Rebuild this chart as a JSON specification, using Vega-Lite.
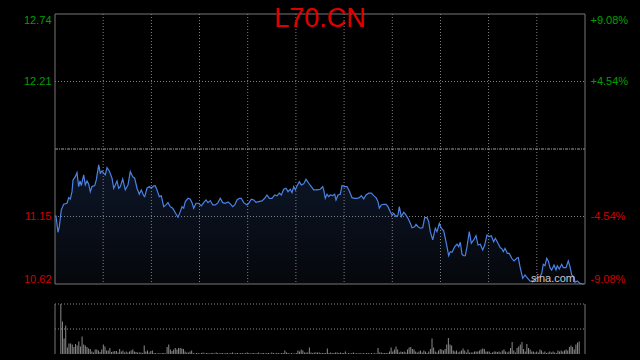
{
"$schema": "https://vega.github.io/schema/vega-lite/v6.json",
"width": 530, "height": 340,
"autosize": {"type": "none"},
"padding": {"left": 55, "top": 14, "right": 55, "bottom": 6},
"background": "#000000",
"title": {"text": "L70.CN", "anchor": "middle", "frame": "group", "color": "#e00000", "font": "Liberation Sans", "fontSize": 27, "fontWeight": "normal", "offset": -40, "baseline": "alphabetic"},
"config": {"view": {"stroke": null}},
"datasets": {
"price": [
{"t":0,"p":11.154},{"t":1,"p":11.154},{"t":3,"p":11.026},{"t":4.3,"p":11.07},{"t":6.3,"p":11.202},{"t":8.7,"p":11.246},{"t":12,"p":11.254},{"t":13.7,"p":11.298},{"t":15.3,"p":11.286},{"t":17,"p":11.345},{"t":18,"p":11.437},{"t":20.3,"p":11.463},{"t":22,"p":11.495},{"t":23.7,"p":11.385},{"t":25,"p":11.43},{"t":26.3,"p":11.393},{"t":28.7,"p":11.477},{"t":30.3,"p":11.398},{"t":32,"p":11.43},{"t":33.7,"p":11.404},{"t":35.3,"p":11.345},{"t":37,"p":11.385},{"t":39.7,"p":11.393},{"t":41.3,"p":11.437},{"t":43.7,"p":11.555},{"t":45.3,"p":11.49},{"t":47,"p":11.508},{"t":48.7,"p":11.49},{"t":50.3,"p":11.477},{"t":52,"p":11.534},{"t":54.3,"p":11.508},{"t":57,"p":11.451},{"t":58.7,"p":11.372},{"t":60.3,"p":11.398},{"t":62,"p":11.43},{"t":63.7,"p":11.372},{"t":65.3,"p":11.385},{"t":67.7,"p":11.445},{"t":70.3,"p":11.359},{"t":73,"p":11.398},{"t":75.3,"p":11.503},{"t":77.7,"p":11.463},{"t":79.7,"p":11.451},{"t":82,"p":11.372},{"t":84.3,"p":11.325},{"t":86.3,"p":11.359},{"t":88.7,"p":11.314},{"t":89.7,"p":11.306},{"t":92,"p":11.372},{"t":94.3,"p":11.385},{"t":96.3,"p":11.372},{"t":98.7,"p":11.39},{"t":100.3,"p":11.39},{"t":102,"p":11.359},{"t":104.3,"p":11.306},{"t":106.3,"p":11.312},{"t":108.7,"p":11.227},{"t":111,"p":11.241},{"t":113,"p":11.259},{"t":115.3,"p":11.227},{"t":117.7,"p":11.215},{"t":120.3,"p":11.18},{"t":123,"p":11.144},{"t":125.3,"p":11.188},{"t":127,"p":11.227},{"t":128.7,"p":11.215},{"t":130.3,"p":11.267},{"t":133,"p":11.293},{"t":135.3,"p":11.286},{"t":137,"p":11.259},{"t":138.7,"p":11.215},{"t":141,"p":11.254},{"t":143.7,"p":11.254},{"t":146.3,"p":11.233},{"t":148.7,"p":11.259},{"t":151,"p":11.28},{"t":153,"p":11.259},{"t":155.3,"p":11.275},{"t":157.7,"p":11.241},{"t":160.3,"p":11.241},{"t":163,"p":11.259},{"t":165.3,"p":11.293},{"t":167.7,"p":11.259},{"t":170.3,"p":11.254},{"t":173,"p":11.264},{"t":175.3,"p":11.249},{"t":177.7,"p":11.227},{"t":179.7,"p":11.241},{"t":182,"p":11.28},{"t":184.3,"p":11.293},{"t":186.3,"p":11.293},{"t":188.7,"p":11.259},{"t":192,"p":11.241},{"t":193.7,"p":11.254},{"t":196.3,"p":11.286},{"t":198.7,"p":11.28},{"t":201,"p":11.262},{"t":203.7,"p":11.267},{"t":207,"p":11.272},{"t":209.7,"p":11.293},{"t":212,"p":11.319},{"t":214.3,"p":11.293},{"t":217,"p":11.293},{"t":219.7,"p":11.319},{"t":222,"p":11.312},{"t":224.3,"p":11.333},{"t":226.3,"p":11.319},{"t":228.7,"p":11.364},{"t":231,"p":11.372},{"t":233,"p":11.345},{"t":235.3,"p":11.364},{"t":237,"p":11.338},{"t":238.7,"p":11.385},{"t":240.3,"p":11.359},{"t":242,"p":11.39},{"t":244.3,"p":11.424},{"t":246.3,"p":11.398},{"t":248.7,"p":11.406},{"t":251,"p":11.443},{"t":253.7,"p":11.411},{"t":256.3,"p":11.385},{"t":258.7,"p":11.359},{"t":262,"p":11.359},{"t":265.3,"p":11.364},{"t":267.7,"p":11.385},{"t":268.7,"p":11.359},{"t":270.3,"p":11.293},{"t":272,"p":11.325},{"t":273.7,"p":11.306},{"t":275.3,"p":11.319},{"t":277.7,"p":11.314},{"t":279.7,"p":11.325},{"t":281,"p":11.28},{"t":283,"p":11.319},{"t":285.3,"p":11.325},{"t":287,"p":11.393},{"t":289.7,"p":11.385},{"t":292,"p":11.385},{"t":294.3,"p":11.351},{"t":297,"p":11.298},{"t":299.7,"p":11.293},{"t":302,"p":11.293},{"t":304.3,"p":11.298},{"t":306.3,"p":11.314},{"t":308.7,"p":11.288},{"t":311,"p":11.319},{"t":313.7,"p":11.333},{"t":316.3,"p":11.333},{"t":318.7,"p":11.314},{"t":321,"p":11.298},{"t":323,"p":11.267},{"t":324.3,"p":11.215},{"t":326.3,"p":11.241},{"t":328.7,"p":11.246},{"t":331,"p":11.246},{"t":333,"p":11.227},{"t":335.3,"p":11.188},{"t":337,"p":11.162},{"t":338.7,"p":11.175},{"t":341,"p":11.149},{"t":343,"p":11.162},{"t":344.3,"p":11.227},{"t":346.3,"p":11.149},{"t":348.7,"p":11.183},{"t":350.3,"p":11.168},{"t":353,"p":11.136},{"t":355.3,"p":11.097},{"t":357,"p":11.062},{"t":359.7,"p":11.07},{"t":361,"p":11.089},{"t":363,"p":11.07},{"t":365.3,"p":11.058},{"t":367.7,"p":11.062},{"t":369.7,"p":11.141},{"t":372,"p":11.141},{"t":373.7,"p":11.11},{"t":375.3,"p":11.031},{"t":377.7,"p":10.966},{"t":380.3,"p":11.058},{"t":382,"p":11.031},{"t":384.3,"p":11.097},{"t":386.3,"p":11.058},{"t":388.7,"p":11.037},{"t":391,"p":10.952},{"t":393.7,"p":10.842},{"t":395.3,"p":10.874},{"t":397,"p":10.869},{"t":399.7,"p":10.913},{"t":402,"p":10.932},{"t":403.7,"p":10.913},{"t":405.3,"p":10.948},{"t":407,"p":10.853},{"t":408.7,"p":10.842},{"t":410.3,"p":10.842},{"t":412,"p":10.913},{"t":414.3,"p":11.031},{"t":416.3,"p":10.94},{"t":418.7,"p":10.966},{"t":421,"p":10.999},{"t":423,"p":10.926},{"t":425.3,"p":10.932},{"t":427.7,"p":10.887},{"t":429.7,"p":10.926},{"t":432,"p":11.005},{"t":434.3,"p":10.992},{"t":436.3,"p":10.999},{"t":438.7,"p":10.952},{"t":440.3,"p":10.979},{"t":443,"p":10.94},{"t":445.3,"p":10.905},{"t":446.7,"p":10.9},{"t":448.3,"p":10.874},{"t":450,"p":10.9},{"t":452.3,"p":10.861},{"t":454.3,"p":10.861},{"t":456.7,"p":10.822},{"t":459,"p":10.801},{"t":461.7,"p":10.822},{"t":463.3,"p":10.827},{"t":465,"p":10.756},{"t":467.7,"p":10.665},{"t":470,"p":10.691},{"t":472.3,"p":10.669},{"t":475,"p":10.643},{"t":477.7,"p":10.638},{"t":480,"p":10.659},{"t":482.3,"p":10.669},{"t":485,"p":10.677},{"t":486.7,"p":10.704},{"t":488.3,"p":10.775},{"t":490,"p":10.764},{"t":491.7,"p":10.822},{"t":493.3,"p":10.801},{"t":495,"p":10.748},{"t":496.7,"p":10.73},{"t":499,"p":10.769},{"t":501,"p":10.73},{"t":502.3,"p":10.764},{"t":504.3,"p":10.738},{"t":506.7,"p":10.775},{"t":508.3,"p":10.748},{"t":511,"p":10.748},{"t":513.3,"p":10.801},{"t":515,"p":10.756},{"t":516.7,"p":10.691},{"t":519,"p":10.677},{"t":520,"p":10.633},{"t":522.3,"p":10.643},{"t":525,"p":10.625},{"t":527.7,"p":10.62},{"t":529,"p":10.62}
],
"vol": [
{"i":0,"v":100},{"i":1,"v":65},{"i":2,"v":31},{"i":3,"v":57},{"i":4,"v":13},{"i":5,"v":21},{"i":6,"v":21},{"i":7,"v":19},{"i":8,"v":14},{"i":9,"v":20},{"i":10,"v":17},{"i":11,"v":25},{"i":12,"v":15},{"i":13,"v":35},{"i":14,"v":19},{"i":15,"v":17},{"i":16,"v":14},{"i":17,"v":11},{"i":18,"v":10},{"i":19,"v":5},{"i":20,"v":3},{"i":21,"v":9},{"i":22,"v":9},{"i":23,"v":7},{"i":24,"v":4},{"i":25,"v":9},{"i":26,"v":19},{"i":27,"v":15},{"i":28,"v":7},{"i":29,"v":7},{"i":30,"v":12},{"i":31,"v":4},{"i":32,"v":5},{"i":33,"v":6},{"i":34,"v":6},{"i":35,"v":3},{"i":36,"v":10},{"i":37,"v":5},{"i":38,"v":7},{"i":39,"v":3},{"i":40,"v":5},{"i":41,"v":3},{"i":42,"v":5},{"i":43,"v":7},{"i":44,"v":9},{"i":45,"v":5},{"i":46,"v":4},{"i":47,"v":3},{"i":48,"v":3},{"i":49,"v":3},{"i":50,"v":2},{"i":51,"v":17},{"i":52,"v":5},{"i":53,"v":7},{"i":54,"v":3},{"i":55,"v":6},{"i":56,"v":7},{"i":57,"v":2},{"i":58,"v":2},{"i":59,"v":1},{"i":60,"v":2},{"i":61,"v":1},{"i":62,"v":2},{"i":63,"v":2},{"i":64,"v":1},{"i":65,"v":14},{"i":66,"v":19},{"i":67,"v":9},{"i":68,"v":6},{"i":69,"v":9},{"i":70,"v":12},{"i":71,"v":9},{"i":72,"v":12},{"i":73,"v":12},{"i":74,"v":11},{"i":75,"v":10},{"i":76,"v":5},{"i":77,"v":3},{"i":78,"v":3},{"i":79,"v":5},{"i":80,"v":7},
{"i":81,"v":2},{"i":82,"v":1},{"i":83,"v":2},{"i":84,"v":2},{"i":85,"v":1},{"i":86,"v":2},{"i":87,"v":3},{"i":88,"v":1},{"i":89,"v":2},{"i":90,"v":2},{"i":91,"v":1},{"i":92,"v":2},{"i":93,"v":2},{"i":94,"v":1},{"i":95,"v":3},{"i":96,"v":2},{"i":97,"v":1},{"i":98,"v":2},{"i":99,"v":2},{"i":100,"v":1},{"i":101,"v":2},{"i":102,"v":2},{"i":103,"v":1},{"i":104,"v":2},{"i":105,"v":3},{"i":106,"v":1},{"i":107,"v":2},{"i":108,"v":2},{"i":109,"v":1},{"i":110,"v":2},{"i":111,"v":2},{"i":112,"v":1},{"i":113,"v":2},{"i":114,"v":3},{"i":115,"v":2},{"i":116,"v":1},{"i":117,"v":2},{"i":118,"v":2},{"i":119,"v":1},{"i":120,"v":2},{"i":121,"v":3},{"i":122,"v":1},{"i":123,"v":2},{"i":124,"v":2},{"i":125,"v":1},{"i":126,"v":2},{"i":127,"v":2},{"i":128,"v":1},{"i":129,"v":3},{"i":130,"v":2},{"i":131,"v":1},{"i":132,"v":2},{"i":133,"v":2},{"i":134,"v":1},{"i":135,"v":2},{"i":136,"v":2},
{"i":137,"v":7},{"i":138,"v":3},{"i":139,"v":2},{"i":140,"v":1},{"i":141,"v":2},{"i":142,"v":1},{"i":143,"v":1},{"i":144,"v":2},{"i":145,"v":7},{"i":146,"v":5},{"i":147,"v":9},{"i":148,"v":7},{"i":149,"v":3},{"i":150,"v":3},{"i":151,"v":3},{"i":152,"v":13},{"i":153,"v":3},{"i":154,"v":2},{"i":155,"v":3},{"i":156,"v":3},{"i":157,"v":3},{"i":158,"v":3},{"i":159,"v":2},{"i":160,"v":2},{"i":161,"v":2},{"i":162,"v":2},{"i":163,"v":11},{"i":164,"v":2},{"i":165,"v":3},{"i":166,"v":2},{"i":167,"v":2},{"i":168,"v":3},{"i":169,"v":3},{"i":170,"v":2},{"i":171,"v":3},{"i":172,"v":2},{"i":173,"v":2},{"i":174,"v":5},
{"i":175,"v":1},{"i":176,"v":2},{"i":177,"v":1},{"i":178,"v":2},{"i":179,"v":3},{"i":180,"v":1},{"i":181,"v":2},{"i":182,"v":1},{"i":183,"v":2},{"i":184,"v":1},{"i":185,"v":2},{"i":186,"v":1},{"i":187,"v":2},{"i":188,"v":2},{"i":189,"v":1},{"i":190,"v":2},{"i":191,"v":1},{"i":192,"v":2},{"i":193,"v":1},
{"i":194,"v":12},{"i":195,"v":3},{"i":196,"v":3},{"i":197,"v":2},{"i":198,"v":2},{"i":199,"v":2},{"i":200,"v":2},{"i":201,"v":5},{"i":202,"v":13},{"i":203,"v":5},{"i":204,"v":9},{"i":205,"v":15},{"i":206,"v":9},{"i":207,"v":3},{"i":208,"v":5},{"i":209,"v":4},{"i":210,"v":5},{"i":211,"v":3},{"i":212,"v":9},{"i":213,"v":13},{"i":214,"v":14},{"i":215,"v":10},{"i":216,"v":9},{"i":217,"v":5},{"i":218,"v":3},{"i":219,"v":5},{"i":220,"v":7},{"i":221,"v":3},{"i":222,"v":7},{"i":223,"v":5},{"i":224,"v":2},{"i":225,"v":5},{"i":226,"v":10},{"i":227,"v":31},{"i":228,"v":13},{"i":229,"v":5},{"i":230,"v":3},{"i":231,"v":7},{"i":232,"v":10},{"i":233,"v":9},{"i":234,"v":7},{"i":235,"v":10},{"i":236,"v":19},{"i":237,"v":32},{"i":238,"v":19},{"i":239,"v":17},{"i":240,"v":7},{"i":241,"v":5},{"i":242,"v":7},{"i":243,"v":3},{"i":244,"v":5},{"i":245,"v":7},{"i":246,"v":11},{"i":247,"v":7},{"i":248,"v":3},{"i":249,"v":9},{"i":250,"v":3},{"i":251,"v":3},{"i":252,"v":3},{"i":253,"v":5},{"i":254,"v":5},{"i":255,"v":5},{"i":256,"v":7},{"i":257,"v":9},{"i":258,"v":11},{"i":259,"v":10},{"i":260,"v":5},{"i":261,"v":5},{"i":262,"v":5},{"i":263,"v":2},{"i":264,"v":3},{"i":265,"v":5},{"i":266,"v":5},{"i":267,"v":4},{"i":268,"v":5},{"i":269,"v":3},{"i":270,"v":7},{"i":271,"v":9},{"i":272,"v":5},{"i":273,"v":3},{"i":274,"v":5},{"i":275,"v":12},{"i":276,"v":24},{"i":277,"v":7},{"i":278,"v":3},{"i":279,"v":12},{"i":280,"v":15},{"i":281,"v":19},{"i":282,"v":24},{"i":283,"v":10},{"i":284,"v":5},{"i":285,"v":20},{"i":286,"v":12},{"i":287,"v":9},{"i":288,"v":5},{"i":289,"v":5},{"i":290,"v":3},{"i":291,"v":5},{"i":292,"v":3},{"i":293,"v":9},{"i":294,"v":7},{"i":295,"v":3},{"i":296,"v":5},{"i":297,"v":2},{"i":298,"v":3},{"i":299,"v":5},{"i":300,"v":3},{"i":301,"v":5},{"i":302,"v":3},{"i":303,"v":2},{"i":304,"v":7},{"i":305,"v":5},{"i":306,"v":7},{"i":307,"v":5},{"i":308,"v":7},{"i":309,"v":9},{"i":310,"v":7},{"i":311,"v":14},{"i":312,"v":17},{"i":313,"v":14},{"i":314,"v":9},{"i":315,"v":19},{"i":316,"v":23},{"i":317,"v":25}
],
"vgrid": [{"t":48.2},{"t":96.4},{"t":144.5},{"t":192.7},{"t":240.9},{"t":289.1},{"t":337.3},{"t":385.5},{"t":433.6},{"t":481.8}],
"hgrid": [{"p":12.21},{"p":11.15}],
"close": [{"p":11.68}],
"vgridv": [{"v":100},{"v":50}],
"vborder": [{"t":0},{"t":530}],
"one": [{"n":1}]
},
"layer": [
{
"data": {"name": "price"},
"mark": {"type": "area", "fill": {"gradient": "linear", "x1": 0, "y1": 0, "x2": 0, "y2": 1, "stops": [{"offset": 0, "color": "#0d1628"}, {"offset": 1, "color": "#05070b"}]}},
"encoding": {
"x": {"field": "t", "type": "quantitative", "scale": {"domain": [0, 530], "nice": false, "zero": false}, "axis": null},
"y": {"field": "p", "type": "quantitative", "scale": {"domain": [10.0704, 12.74], "nice": false, "zero": false},
"axis": {"orient": "left", "values": [10.62, 11.15, 12.21, 12.74], "title": null, "domain": false, "ticks": false, "grid": false, "labelPadding": 4, "labelFont": "Liberation Sans", "labelFontSize": 11, "format": ".2f", "labelOverlap": false, "labelFlush": false,
"labelColor": {"condition": {"test": "datum.value > 11.68", "value": "#00a000"}, "value": "#d00000"},
"labelBaseline": {"condition": [{"test": "datum.value > 12.7", "value": "top"}, {"test": "datum.value < 10.7", "value": "bottom"}], "value": "middle"}}},
"y2": {"datum": 10.62}
}
},
{
"data": {"name": "vgrid"},
"mark": {"type": "rule", "stroke": "#808080", "strokeWidth": 1, "strokeDash": [1, 2]},
"encoding": {
"x": {"field": "t", "type": "quantitative", "scale": {"domain": [0, 530], "nice": false, "zero": false}, "axis": null},
"y": {"datum": 12.74, "type": "quantitative", "scale": {"domain": [10.0704, 12.74], "nice": false, "zero": false}, "axis": null},
"y2": {"datum": 10.62}
}
},
{
"data": {"name": "hgrid"},
"mark": {"type": "rule", "stroke": "#808080", "strokeWidth": 1, "strokeDash": [1, 2]},
"encoding": {
"x": {"datum": 0, "type": "quantitative", "scale": {"domain": [0, 530], "nice": false, "zero": false}, "axis": null},
"x2": {"datum": 530},
"y": {"field": "p", "type": "quantitative", "scale": {"domain": [10.0704, 12.74], "nice": false, "zero": false}, "axis": null}
}
},
{
"data": {"name": "close"},
"mark": {"type": "rule", "stroke": "#a0a0a0", "strokeWidth": 1, "strokeDash": [3, 1, 1, 1]},
"encoding": {
"x": {"datum": 0, "type": "quantitative", "scale": {"domain": [0, 530], "nice": false, "zero": false}, "axis": null},
"x2": {"datum": 530},
"y": {"field": "p", "type": "quantitative", "scale": {"domain": [10.0704, 12.74], "nice": false, "zero": false}, "axis": null}
}
},
{
"data": {"name": "vgridv"},
"mark": {"type": "rule", "stroke": "#8c8c8c", "strokeWidth": 1, "strokeDash": [1, 2]},
"encoding": {
"x": {"datum": 0, "type": "quantitative", "scale": {"domain": [0, 530], "nice": false, "zero": false}, "axis": null},
"x2": {"datum": 530},
"y": {"field": "v", "type": "quantitative", "scale": {"domain": [0, 680], "nice": false, "zero": false}, "axis": null}
}
},
{
"data": {"name": "vol"},
"mark": {"type": "bar", "color": "#8a8a8a", "width": 1},
"encoding": {
"x": {"field": "i", "type": "quantitative", "scale": {"domain": [-0.5, 317.5], "nice": false, "zero": false}, "axis": null},
"y": {"field": "v", "type": "quantitative", "scale": {"domain": [0, 680], "nice": false, "zero": false}, "axis": null},
"y2": {"datum": 0}
}
},
{
"data": {"name": "price"},
"mark": {"type": "line", "stroke": "#4b82e3", "strokeWidth": 1.2},
"encoding": {
"x": {"field": "t", "type": "quantitative", "scale": {"domain": [0, 530], "nice": false, "zero": false}, "axis": null},
"y": {"field": "p", "type": "quantitative", "scale": {"domain": [10.0704, 12.74], "nice": false, "zero": false},
"axis": {"orient": "right", "values": [10.62, 11.15, 12.21, 12.74], "title": null, "domain": false, "ticks": false, "grid": false, "labelPadding": 5, "labelFont": "Liberation Sans", "labelFontSize": 11, "labelOverlap": false, "labelFlush": false,
"labelExpr": "(datum.value > 11.68 ? '+' : '-') + format(abs(datum.value - 11.68) / 11.68 * 100, '.2f') + '%'",
"labelColor": {"condition": {"test": "datum.value > 11.68", "value": "#00a000"}, "value": "#d00000"},
"labelBaseline": {"condition": [{"test": "datum.value > 12.7", "value": "top"}, {"test": "datum.value < 10.7", "value": "bottom"}], "value": "middle"}}}
}
},
{
"data": {"name": "one"},
"mark": {"type": "rect", "fill": null, "fillOpacity": 0, "stroke": "#777777", "strokeWidth": 1},
"encoding": {
"x": {"datum": 0, "type": "quantitative", "scale": {"domain": [0, 530], "nice": false, "zero": false}, "axis": null},
"x2": {"datum": 530},
"y": {"datum": 12.74, "type": "quantitative", "scale": {"domain": [10.0704, 12.74], "nice": false, "zero": false}, "axis": null},
"y2": {"datum": 10.62}
}
},
{
"data": {"name": "vborder"},
"mark": {"type": "rule", "stroke": "#777777", "strokeWidth": 1},
"encoding": {
"x": {"field": "t", "type": "quantitative", "scale": {"domain": [0, 530], "nice": false, "zero": false}, "axis": null},
"y": {"datum": 100, "type": "quantitative", "scale": {"domain": [0, 680], "nice": false, "zero": false}, "axis": null},
"y2": {"datum": 0}
}
},
{
"data": {"name": "one"},
"mark": {"type": "text", "text": "sina.com", "color": "#c8c8c8", "font": "Liberation Sans", "fontSize": 11, "align": "center", "baseline": "alphabetic"},
"encoding": {
"x": {"datum": 498, "type": "quantitative", "scale": {"domain": [0, 530], "nice": false, "zero": false}, "axis": null},
"y": {"datum": 10.633, "type": "quantitative", "scale": {"domain": [10.0704, 12.74], "nice": false, "zero": false}, "axis": null}
}
}
],
"resolve": {"scale": {"x": "independent", "y": "independent"}}
}
